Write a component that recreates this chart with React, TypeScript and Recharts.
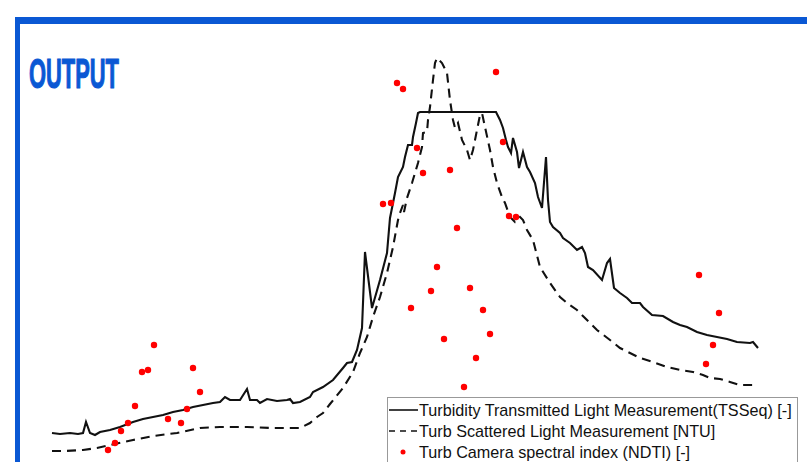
import { ComposedChart, Line, Scatter, XAxis, YAxis } from 'recharts';

// 투과광 탁도 (x = sample position, y = level)
const tsseqX = [52, 60, 70, 78, 83, 86, 90, 95, 100, 110, 120, 133, 143, 153, 163, 173, 183, 193, 203, 213, 220, 225, 230, 240, 247, 250, 257, 260, 267, 277, 287, 290, 293, 300, 310, 313, 323, 333, 343, 347, 352, 357, 362, 363, 365, 372, 380, 387, 390, 395, 398, 403, 405, 408, 412, 413, 416, 418, 420, 496, 500, 503, 506, 508, 511, 513, 517, 519, 523, 527, 530, 535, 538, 542, 546, 548, 550, 553, 560, 563, 570, 577, 582, 585, 588, 593, 602, 607, 610, 614, 620, 627, 632, 640, 643, 652, 663, 673, 680, 687, 697, 707, 717, 727, 737, 750, 753, 758];
const tsseqY = [29, 28, 29, 28, 29, 40, 29, 27, 30, 32, 35, 40, 43, 45, 47, 50, 52, 55, 57, 59, 60, 65, 62, 62, 73, 62, 62, 59, 63, 61, 62, 63, 59, 60, 65, 70, 75, 82, 94, 99, 100, 112, 134, 159, 210, 154, 182, 209, 244, 269, 285, 295, 305, 317, 317, 325, 339, 349, 350, 350, 342, 334, 322, 315, 309, 324, 310, 294, 310, 295, 290, 279, 265, 254, 305, 262, 240, 235, 229, 224, 219, 212, 215, 209, 195, 192, 182, 199, 203, 174, 169, 164, 159, 159, 155, 147, 146, 140, 137, 135, 130, 127, 125, 123, 120, 119, 120, 114];

// 산란광 탁도 [NTU]
const ntuX = [52, 65, 83, 97, 110, 133, 153, 177, 200, 220, 247, 273, 300, 310, 317, 323, 330, 343, 353, 360, 367, 373, 380, 387, 393, 398, 400, 403, 404, 407, 412, 418, 422, 423, 427, 428, 430, 433, 435, 437, 442, 447, 450, 453, 455, 458, 462, 467, 470, 473, 477, 480, 482, 485, 490, 493, 497, 502, 505, 510, 515, 520, 523, 527, 533, 540, 550, 560, 567, 577, 587, 597, 610, 620, 630, 640, 653, 667, 680, 693, 703, 710, 720, 730, 740, 753];
const ntuY = [11, 11, 12, 14, 17, 22, 26, 29, 34, 35, 35, 34, 34, 39, 45, 49, 58, 74, 90, 109, 125, 145, 165, 189, 215, 242, 249, 257, 250, 264, 279, 299, 315, 329, 330, 342, 355, 382, 399, 404, 399, 389, 362, 342, 334, 339, 322, 312, 302, 312, 332, 347, 349, 335, 312, 295, 279, 265, 259, 245, 240, 245, 242, 232, 222, 195, 179, 165, 159, 152, 142, 132, 122, 114, 109, 104, 100, 95, 92, 90, 87, 84, 83, 80, 77, 77];

// 카메라 분광 지수 (NDTI)
const ndtiX = [108, 115, 121, 128, 135, 142, 148, 154, 168, 181, 187, 193, 200, 383, 391, 397, 403, 417, 423, 450, 496, 503, 509, 516, 411, 431, 437, 457, 470, 483, 490, 444, 476, 464, 699, 719, 713, 706];
const ndtiY = [12, 19, 31, 39, 56, 90, 92, 117, 43, 39, 53, 94, 70, 258, 259, 379, 373, 314, 289, 292, 390, 320, 246, 245, 154, 171, 195, 234, 174, 152, 128, 123, 104, 75, 187, 149, 117, 98];

const tsseq = tsseqX.map((x, i) => ({ x, y: tsseqY[i] }));
const ntu = ntuX.map((x, i) => ({ x, y: ntuY[i] }));
const ndti = ndtiX.map((x, i) => ({ x, y: ndtiY[i] }));

const legendItems = [
    { name: 'Turbidity Transmitted Light Measurement(TSSeq) [-]', kind: 'solid' },
    { name: 'Turb Scattered Light Measurement [NTU]', kind: 'dash' },
    { name: 'Turb Camera spectral index (NDTI) [-]', kind: 'dot' },
];

const BLUE = '#0a58d4';

// 빨간 점
const RedDot = (props: any) => <circle cx={props.cx} cy={props.cy} r={3.2} fill="#ff0000" />;

function ChartLegend() {
    return (
        <svg
            width={807}
            height={462}
            style={{ position: 'absolute', left: 0, top: 0, pointerEvents: 'none' }}
        >
            <rect x={387.5} y={397.5} width={410} height={80} fill="#fff" stroke="#999" />
            {legendItems.map((item, i) => {
                const cy = 410 + i * 21;
                return (
                    <g key={item.name}>
                        {item.kind === 'solid' && (
                            <line x1={389} x2={418} y1={cy} y2={cy} stroke="#111" strokeWidth={1.6} />
                        )}
                        {item.kind === 'dash' && (
                            <line x1={389} x2={418} y1={cy} y2={cy} stroke="#111" strokeWidth={1.6} strokeDasharray="6 5" />
                        )}
                        {item.kind === 'dot' && <circle cx={403} cy={cy} r={2.5} fill="#ff0000" />}
                        <text
                            x={419}
                            y={cy + 5.5}
                            fontFamily="'Liberation Sans', Arial, sans-serif"
                            fontSize={16.2}
                            fill="#111"
                        >
                            {item.name}
                        </text>
                    </g>
                );
            })}
        </svg>
    );
}

export default function App() {
    return (
        <div style={{ position: 'relative', width: 807, height: 462, overflow: 'hidden', background: '#fff' }}>
            <style>{'body{margin:0}'}</style>
            {/* 파란 테두리 */}
            <div
                style={{
                    position: 'absolute',
                    left: 15,
                    top: 17,
                    width: 820,
                    height: 500,
                    borderLeft: `5px solid ${BLUE}`,
                    borderTop: `7px solid ${BLUE}`,
                }}
            />
            <ComposedChart
                width={807}
                height={462}
                margin={{ top: 0, right: 0, bottom: 0, left: 0 }}
                style={{ position: 'absolute', left: 0, top: 0 }}
            >
                <XAxis type="number" dataKey="x" domain={[0, 807]} hide allowDuplicatedCategory={false} />
                <YAxis type="number" dataKey="y" domain={[0, 462]} hide />
                <Line
                    data={ntu}
                    dataKey="y"
                    type="linear"
                    stroke="#111"
                    strokeWidth={2.1}
                    strokeDasharray="9 6"
                    dot={false}
                    isAnimationActive={false}
                />
                <Line
                    data={tsseq}
                    dataKey="y"
                    type="linear"
                    stroke="#111"
                    strokeWidth={2.1}
                    dot={false}
                    isAnimationActive={false}
                />
                <Scatter data={ndti} dataKey="y" fill="#ff0000" shape={RedDot} isAnimationActive={false} />
            </ComposedChart>
            <svg width={807} height={120} style={{ position: 'absolute', left: 0, top: 0 }}>
                <text
                    x={29}
                    y={88}
                    fontFamily="'Liberation Sans', Arial, sans-serif"
                    fontWeight="bold"
                    fontSize={43}
                    fill={BLUE}
                    stroke={BLUE}
                    strokeWidth={1.2}
                    textLength={90}
                    lengthAdjust="spacingAndGlyphs"
                >
                    OUTPUT
                </text>
            </svg>
            <ChartLegend />
        </div>
    );
}
